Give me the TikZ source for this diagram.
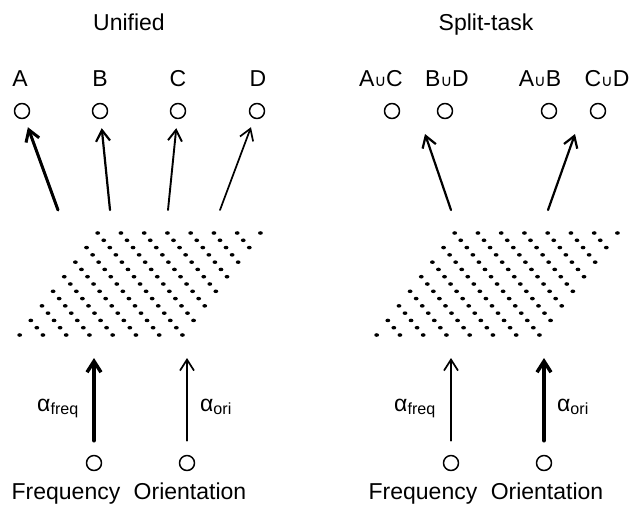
\documentclass[tikz,border=0pt]{standalone}
\usepackage{fontspec}
\setmainfont{Liberation Sans}
\newfontfamily\cupfont{DejaVu Sans}
\usetikzlibrary{arrows.meta}
\newcommand{\cupsym}{{\cupfont\fontsize{16}{16}\selectfont ∪}}
\newcommand{\wlab}[1]{α\textsubscript{#1}}
\begin{document}
\begin{tikzpicture}[x=1pt,y=-1pt,line join=round,line cap=round,
		font=\fontsize{23}{27}\selectfont,
		unit/.style={draw,circle,line width=1.5pt,minimum size=15pt,inner sep=0pt},
		lab/.style={anchor=base,inner sep=0pt},
		arr/.style={-{Straight Barb[length=11pt,width=14pt]},line width=#1},
		arr/.default=1.6pt]
	\useasboundingbox (0,0) rectangle (639,512);
	% titles
	\path (129,30) node[lab] (unified) {Unified}
		(486,30) node[lab] (split) {Split-task};
	% output units
	\foreach \p/\x/\lx/\t in {A/22/20/A,B/100/100/B,C/178/178/C,D/257/258/D,
		AC/392/381/A\cupsym C,BD/445/447/B\cupsym D,AB/549/540/A\cupsym B,CD/598/607/C\cupsym D}{
		\node[unit] (c\p) at (\x,111) {};
		\node[lab] (l\p) at (\lx,86) {\t};
	}
	% dot lattice
	\foreach \dx in {0,357}
	\foreach \r in {0,...,14}{
		\pgfmathtruncatemacro\n{6+mod(\r+1,2)}
		\foreach \j in {0,...,\n}
		\fill ({\dx+97.7+6.05*\r+23.25*(\j-floor(\r/2))},{233+7.286*\r}) ellipse (2.4pt and 1.8pt);
	}
	% arrow ends
	\path (58,210) coordinate (t1)
		(110,210) coordinate (t2)
		(168,210) coordinate (t3)
		(220,210) coordinate (t4)
		(451,210) coordinate (t5)
		(548,210) coordinate (t6)
		(425,134) coordinate (h5)
		(575,134) coordinate (h6)
		;
	\draw[arr=3pt,shorten >=9pt] (t1)--(cA);
	\draw[arr=2.2pt,shorten >=9pt] (t2)--(cB);
	\draw[arr=1.9pt,shorten >=9pt] (t3)--(cC);
	\draw[arr=1.7pt,shorten >=9pt] (t4)--(cD);
	\draw[arr=2.2pt] (t5)--(h5);
	\draw[arr=2.2pt] (t6)--(h6);
	% input units
	\foreach \p/\x/\lx/\t/\w in {fl/94/66/Frequency/3.5pt,ol/187/190/Orientation/1.7pt,
		fr/451/423/Frequency/1.7pt,or/544/547/Orientation/3.5pt}{
		\node[unit] (\p) at (\x,463) {};
		\node[lab] (n\p) at (\lx,499) {\t};
		\coordinate (h\p) at (\x,358);
		\draw[arr=\w,shorten <=14pt] (\p)--(h\p);
	}
	\foreach \p/\x/\t in {fl/58/freq,ol/216/ori,fr/415/freq,or/573/ori}
	\node[lab] (w\p) at (\x,411) {\wlab{\t}};
\end{tikzpicture}
\end{document}
